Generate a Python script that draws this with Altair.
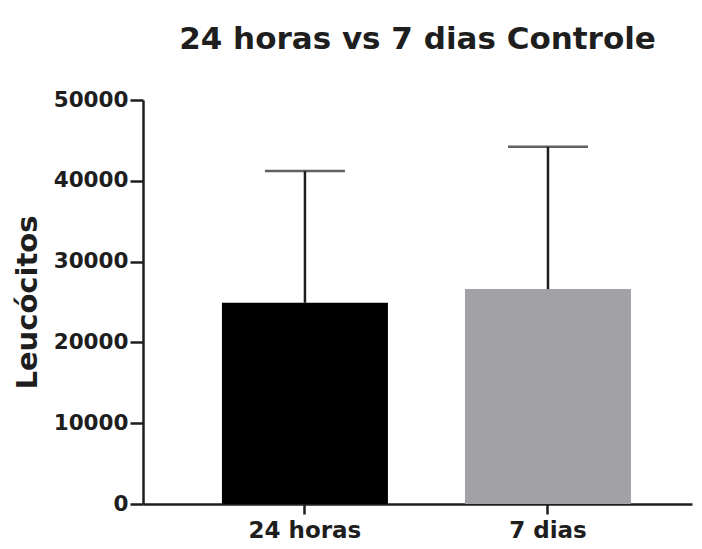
import altair as alt
import pandas as pd

groups = ["24 horas", "7 dias"]
means = [24900, 26600]
sds = [16300, 17600]
colors = ["#000000", "#a2a1a6"]
y_ticks = [0, 10000, 20000, 30000, 40000, 50000]

df = pd.DataFrame({
    "grupo": groups,
    "media": means,
    "sd": sds,
    "cor": colors,
})
df["sup"] = df["media"] + df["sd"]

FONT = "DejaVu Sans"
INK = "#1e1e1e"

x = alt.X(
    "grupo:N",
    sort=groups,
    title=None,
    scale=alt.Scale(paddingInner=0.317, paddingOuter=0.288, align=0.564),
    axis=alt.Axis(
        labelAngle=0, labelFont=FONT, labelFontSize=23, labelFontWeight="bold",
        labelColor=INK, domainColor=INK, domainWidth=2.5, tickColor=INK,
        tickWidth=2.5, tickSize=10, labelPadding=5,
    ),
)

y_scale = alt.Scale(domain=[0, 50000], nice=False)
y_axis = alt.Axis(
    values=y_ticks, format="d", grid=False, title="Leucócitos",
    titleFont=FONT, titleFontSize=29, titleFontWeight="bold", titleColor=INK,
    titlePadding=11, labelFont=FONT, labelFontSize=21.5, labelFontWeight="bold",
    labelColor=INK, domainColor=INK, domainWidth=2.5, tickColor=INK,
    tickWidth=2.5, tickSize=13, labelPadding=2,
)

bars = alt.Chart(df).mark_bar().encode(
    x=x,
    y=alt.Y("media:Q", scale=y_scale, axis=y_axis),
    color=alt.Color("cor:N", scale=None, legend=None),
)

rules = alt.Chart(df).mark_rule(color=INK, strokeWidth=2.5).encode(
    x=alt.X("grupo:N", sort=groups),
    y=alt.Y("media:Q", scale=y_scale),
    y2="sup:Q",
)

caps = alt.Chart(df).mark_tick(color=INK, size=80, thickness=2.5).encode(
    x=alt.X("grupo:N", sort=groups),
    y=alt.Y("sup:Q", scale=y_scale),
)

chart = alt.layer(bars, rules, caps).properties(
    width=549,
    height=404,
    autosize=alt.AutoSizeParams(type="none"),
    padding={"left": 135, "top": 92, "right": 2, "bottom": 37},
    title=alt.TitleParams(
        "24 horas vs 7 dias Controle", font=FONT, fontSize=31, fontWeight="bold",
        color=INK, anchor="middle", frame="group", offset=33,
    ),
).configure_view(stroke=None)

chart.save("out.html", embed_options={"renderer": "svg", "actions": False})
